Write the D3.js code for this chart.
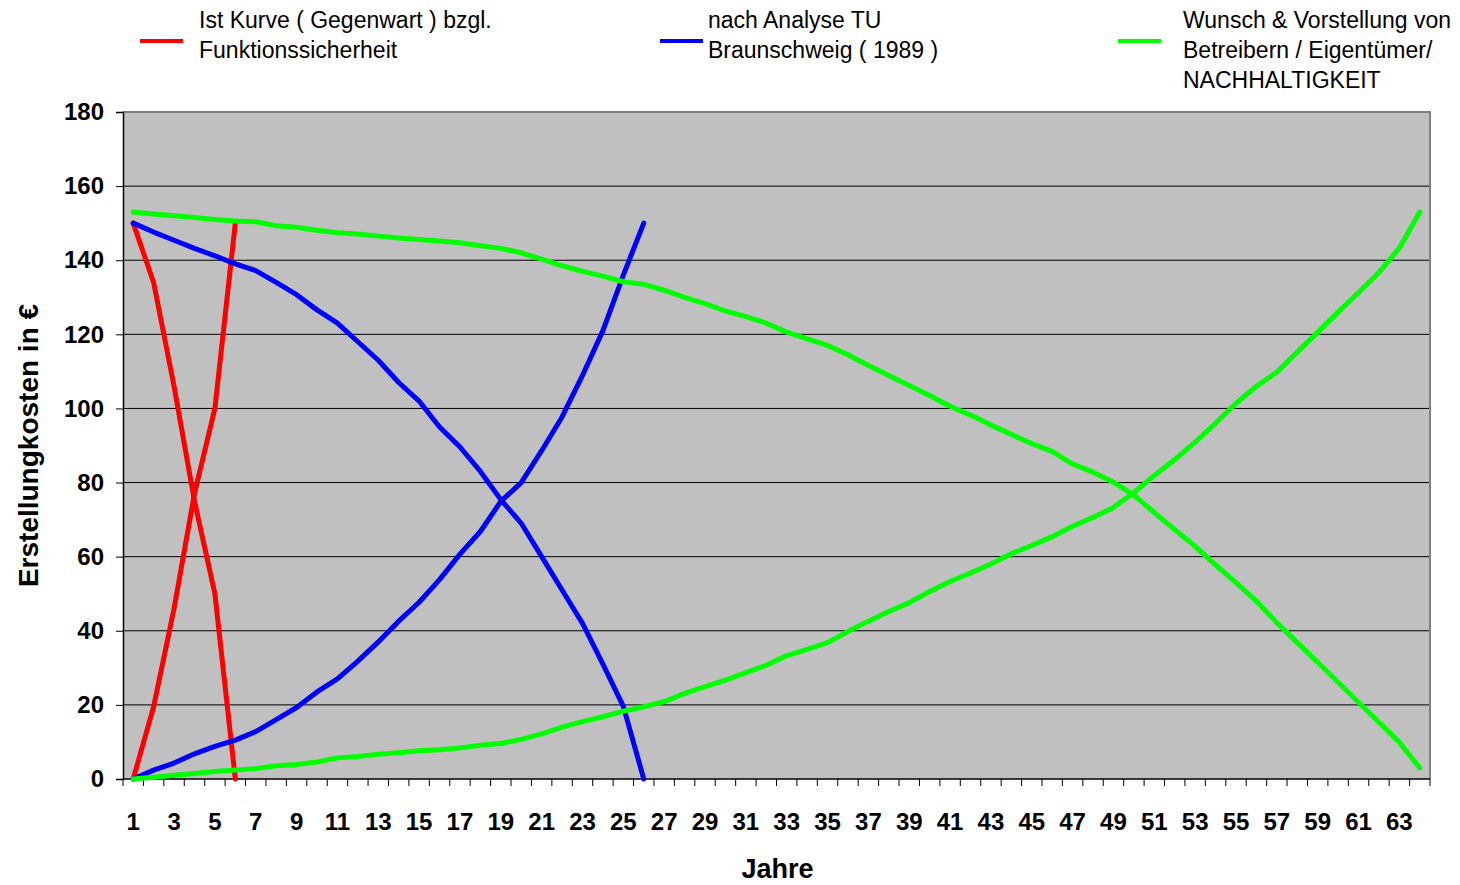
<!DOCTYPE html>
<html>
<head>
<meta charset="utf-8">
<script src="https://cdn.jsdelivr.net/npm/d3@7"></script>
<style>
  body { margin: 0; background: #fff; }
  svg { display: block; font-family: "Liberation Sans", Arial, sans-serif; }
</style>
</head>
<body>
<svg width="1460" height="885"></svg>
<script>

// categories (Jahre) and tick values
const years = d3.range(1, 65);
const yTicks = [0, 20, 40, 60, 80, 100, 120, 140, 160, 180];

// red: Ist Kurve (years 1..6)
const redDown = [150, 134, 106, 75, 50, 0];
const redUp   = [0, 19.5, 46, 77, 100, 150];

// blue: TU Braunschweig (years 1..26)
const blueDown = [150, 147.6, 145.4, 143.2, 141.2, 139, 137.2, 134, 130.7, 126.6, 123, 118, 113,
                  107, 102, 95, 89.6, 83, 75.4, 69, 60, 51, 42, 31, 19.6, 0];
const blueUp   = [0, 2.4, 4.3, 6.8, 8.8, 10.5, 12.8, 16, 19.3, 23.5, 27, 31.8, 37,
                  42.6, 47.7, 53.8, 60.7, 66.8, 74.9, 80, 88.6, 97.7, 108.9, 121, 136, 150];

// green: Wunsch (years 1..64)
const greenDown = [153, 152.5, 152, 151.5, 151, 150.6,
  150.4, 149.3, 148.9, 148.1, 147.4, 147.1, 146.5, 146, 145.6, 145.2, 144.7, 143.9, 143.2, 142,
  140.3, 138.5, 137, 135.7, 134.2,
  133.5, 131.9, 130, 128.3, 126.3, 124.8, 123, 120.6, 118.8, 117, 114.5, 111.6, 108.9, 106.2,
  103.5, 100.6, 98.2, 95.5, 93, 90.5,
  88.4, 85, 82.8, 80.1, 76.6, 71.9, 67.3, 62.8, 57.8, 53, 48, 42.2, 36.8, 31.5, 26.1, 20.7,
  15.3, 9.9, 3];
const greenUp = [0, 0.5, 1, 1.5, 2, 2.4,
  2.8, 3.6, 3.9, 4.6, 5.7, 6.1, 6.7, 7.1, 7.6, 7.9, 8.4, 9.1, 9.6, 10.7, 12.2, 14, 15.5, 16.8, 18.3,
  19.5, 20.9, 23.1, 24.9, 26.7, 28.7, 30.7, 33.3, 35, 36.8, 39.8, 42.6, 45.2, 47.6, 50.6, 53.3,
  55.6, 58, 60.8, 63,
  65.4, 68.2, 70.6, 73.3, 77.3, 81.9, 86.2, 90.9, 96, 101.4, 106, 109.8, 115.2, 120.6, 126,
  131.3, 136.7, 143.3, 153];

const legendItems = [
  {color: "#ff0000", lines: ["Ist Kurve ( Gegenwart ) bzgl.", "Funktionssicherheit"], lx: 140, tx: 199},
  {color: "#0000ff", lines: ["nach Analyse TU", "Braunschweig ( 1989 )"], lx: 660, tx: 708},
  {color: "#00ff00", lines: ["Wunsch & Vorstellung von", "Betreibern / Eigentümer/", "NACHHALTIGKEIT"], lx: 1118, tx: 1183}
];

const series = [
  {color: "#ff0000", values: redDown},
  {color: "#ff0000", values: redUp},
  {color: "#0000ff", values: blueDown},
  {color: "#0000ff", values: blueUp},
  {color: "#00ff00", values: greenDown},
  {color: "#00ff00", values: greenUp}
];

const svg = d3.select("svg");
const pLeft = 123, pRight = 1430, pTop = 112, pBottom = 779;

const x = d3.scaleBand().domain(years).range([pLeft, pRight]).padding(0);
const y = d3.scaleLinear().domain([0, 180]).range([pBottom, pTop]);
const cx = k => x(k) + x.bandwidth() / 2;

// plot area
svg.append("rect")
  .attr("x", pLeft).attr("y", pTop)
  .attr("width", pRight - pLeft).attr("height", pBottom - pTop)
  .style("fill", "#c0c0c0");

// gridlines
svg.selectAll(".grid").data(yTicks.filter(d => d > 0 && d < 180)).enter().append("line")
  .attr("class", "grid")
  .attr("x1", pLeft).attr("x2", pRight)
  .attr("y1", d => y(d)).attr("y2", d => y(d))
  .style("stroke", "#000").style("stroke-width", 1);

// frame: top and right gray
svg.append("path")
  .attr("d", `M${pLeft},${pTop}H${pRight}V${pBottom}`)
  .style("fill", "none").style("stroke", "#808080").style("stroke-width", 2);

// y axis
const yAxis = svg.append("g")
  .attr("transform", `translate(${pLeft},0)`)
  .call(d3.axisLeft(y).tickValues(yTicks).tickSize(7).tickPadding(12));
yAxis.select(".domain").style("stroke", "#000").style("stroke-width", 1.5);
yAxis.selectAll(".tick line").style("stroke", "#000");
yAxis.selectAll("text")
  .style("font-size", "24px").style("font-weight", "bold").style("fill", "#000");

// x axis line + ticks at category boundaries
svg.append("line")
  .attr("x1", pLeft).attr("x2", pRight)
  .attr("y1", pBottom).attr("y2", pBottom)
  .style("stroke", "#000").style("stroke-width", 1.5);

const bounds = years.map(k => x(k)).concat([pRight]);
svg.selectAll(".xtick").data(bounds).enter().append("line")
  .attr("class", "xtick")
  .attr("x1", d => d).attr("x2", d => d)
  .attr("y1", pBottom).attr("y2", pBottom + 7)
  .style("stroke", "#000").style("stroke-width", 1);

svg.selectAll(".xlabel").data(years.filter(k => k % 2 === 1)).enter().append("text")
  .attr("class", "xlabel")
  .attr("x", d => cx(d))
  .attr("y", 830)
  .attr("text-anchor", "middle")
  .style("font-size", "24px").style("font-weight", "bold")
  .text(d => d);

// axis titles
svg.append("text")
  .attr("x", (pLeft + pRight) / 2 + 1).attr("y", 878)
  .attr("text-anchor", "middle")
  .style("font-size", "27px").style("font-weight", "bold")
  .text("Jahre");

svg.append("text")
  .attr("transform", `translate(38,${(pTop + pBottom) / 2}) rotate(-90)`)
  .attr("text-anchor", "middle")
  .style("font-size", "28px").style("font-weight", "bold")
  .text("Erstellungkosten in €");

// lines
const line = d3.line()
  .x((d, i) => cx(years[i]))
  .y(d => y(d));

svg.selectAll(".series").data(series).enter().append("path")
  .attr("class", "series")
  .attr("d", d => line(d.values))
  .style("fill", "none")
  .style("stroke", d => d.color)
  .style("stroke-width", 5)
  .style("stroke-linejoin", "round")
  .style("stroke-linecap", "round");

// legend
const lg = svg.selectAll(".legend").data(legendItems).enter().append("g")
  .attr("class", "legend");

lg.append("line")
  .attr("x1", d => d.lx).attr("x2", d => d.lx + 43)
  .attr("y1", 41).attr("y2", 41)
  .style("stroke", d => d.color).style("stroke-width", 4);

lg.each(function(d) {
  d3.select(this).selectAll("text").data(d.lines).enter().append("text")
    .attr("x", d.tx)
    .attr("y", (t, i) => 28 + i * 30)
    .style("font-size", "23px")
    .text(t => t);
});

</script>
</body>
</html>
